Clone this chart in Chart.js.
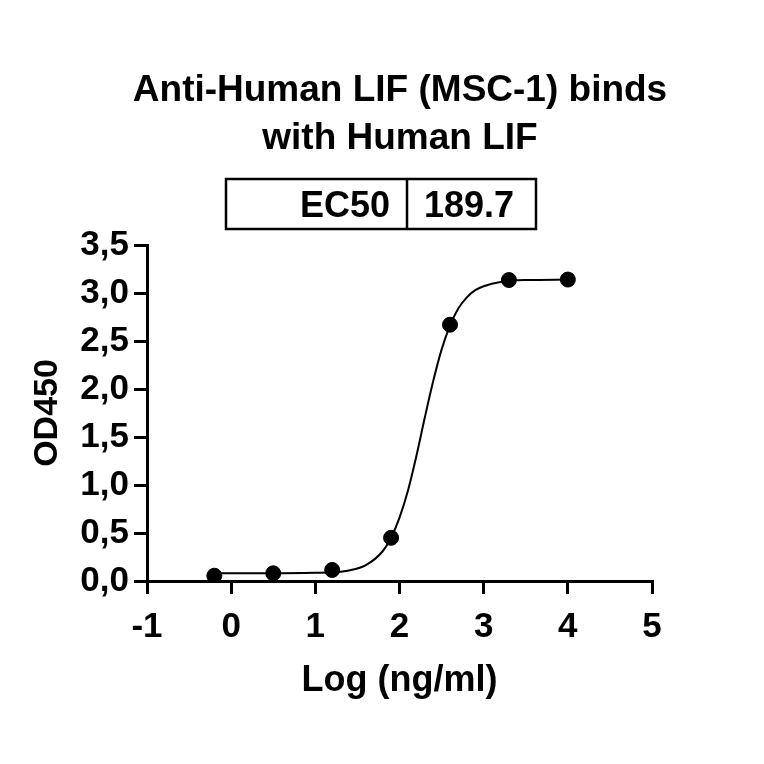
<!DOCTYPE html>
<html>
<head>
<meta charset="utf-8">
<script src="https://cdn.jsdelivr.net/npm/chart.js@4"></script>
<style>
  html, body { margin: 0; padding: 0; background: #fff; }
  #wrap { width: 764px; height: 764px; }
</style>
</head>
<body>
<div id="wrap"><canvas id="chart" width="764" height="764"></canvas></div>
<script>
// measured points (log concentration vs OD450)
const logConc = [-0.2, 0.5, 1.2, 1.9, 2.6, 3.3, 4.0];
const od450 = [0.055, 0.08, 0.115, 0.45, 2.67, 3.135, 3.14];

// fitted curve
const curveX = [-0.2, 0.0, 0.5, 1.0, 1.2, 1.4, 1.6, 1.8, 1.9, 2.0, 2.1, 2.2, 2.3, 2.4, 2.5, 2.6, 2.7, 2.8, 2.9, 3.0, 3.2, 3.5, 4.0];
const curveY = [0.08, 0.08, 0.08, 0.085, 0.09, 0.11, 0.165, 0.31, 0.45, 0.66, 0.94, 1.30, 1.70, 2.08, 2.41, 2.66, 2.84, 2.955, 3.03, 3.07, 3.115, 3.135, 3.14];

const titleLines = ['Anti-Human LIF (MSC-1) binds', 'with Human LIF'];
const ec50Label = 'EC50';
const ec50Value = '189.7';

const xTicks = [-1, 0, 1, 2, 3, 4, 5];
const yTicks = [0, 0.5, 1, 1.5, 2, 2.5, 3, 3.5];

const FONT = '"Liberation Sans", Arial, sans-serif';

// title and the EC50 box above the plot
const headerPlugin = {
    id: 'header',
    afterDraw(chart) {
        const ctx = chart.ctx;
        ctx.save();
        ctx.fillStyle = '#000';
        ctx.textAlign = 'center';
        ctx.textBaseline = 'alphabetic';
        ctx.font = 'bold 37px ' + FONT;
        ctx.fillText(titleLines[0], 400, 101);
        ctx.fillText(titleLines[1], 400, 149);

        ctx.strokeStyle = '#000';
        ctx.lineWidth = 2.5;
        ctx.strokeRect(226, 179, 310, 50);
        ctx.beginPath();
        ctx.moveTo(407, 179);
        ctx.lineTo(407, 229);
        ctx.stroke();

        ctx.font = 'bold 36px ' + FONT;
        ctx.textAlign = 'right';
        ctx.fillText(ec50Label, 390, 217);
        ctx.textAlign = 'left';
        ctx.fillText(ec50Value, 424, 217);
        ctx.restore();
    }
};

new Chart(document.getElementById('chart'), {
    type: 'scatter',
    data: {
        datasets: [{
            label: 'fit',
            data: curveX.map((x, i) => ({ x: x, y: curveY[i] })),
            showLine: true,
            borderColor: '#000',
            borderWidth: 2,
            pointRadius: 0,
            tension: 0.4,
            cubicInterpolationMode: 'monotone'
        }, {
            label: 'OD450',
            data: logConc.map((x, i) => ({ x: x, y: od450[i] })),
            showLine: false,
            backgroundColor: '#000',
            borderColor: '#000',
            pointRadius: 7.5
        }]
    },
    options: {
        responsive: false,
        animation: false,
        devicePixelRatio: 1,
        layout: { padding: { top: 245, right: 112, bottom: 0, left: 0 } },
        plugins: {
            legend: { display: false },
            tooltip: { enabled: false }
        },
        scales: {
            x: {
                type: 'linear',
                min: -1,
                max: 5,
                afterFit(scale) { scale.height = 183; },
                afterBuildTicks(scale) { scale.ticks = xTicks.map(v => ({ value: v })); },
                grid: { drawOnChartArea: false, color: '#000', lineWidth: 3, tickLength: 13 },
                border: { display: true, color: '#000', width: 3 },
                ticks: {
                    color: '#000',
                    padding: 12,
                    maxRotation: 0,
                    font: { family: FONT, size: 35, weight: 'bold' }
                },
                title: {
                    display: true,
                    text: 'Log (ng/ml)',
                    color: '#000',
                    padding: { top: 0, bottom: 61 },
                    font: { family: FONT, size: 36, weight: 'bold' }
                }
            },
            y: {
                type: 'linear',
                min: 0,
                max: 3.5,
                afterFit(scale) { scale.width = 147; },
                afterBuildTicks(scale) { scale.ticks = yTicks.map(v => ({ value: v })); },
                grid: { drawOnChartArea: false, color: '#000', lineWidth: 3, tickLength: 13 },
                border: { display: true, color: '#000', width: 3 },
                ticks: {
                    color: '#000',
                    padding: 5,
                    font: { family: FONT, size: 35, weight: 'bold' },
                    callback: v => v.toFixed(1).replace('.', ',')
                },
                title: {
                    display: true,
                    text: 'OD450',
                    color: '#000',
                    padding: { top: 27, bottom: 0 },
                    font: { family: FONT, size: 34, weight: 'bold' }
                }
            }
        }
    },
    plugins: [headerPlugin]
});
</script>
</body>
</html>
